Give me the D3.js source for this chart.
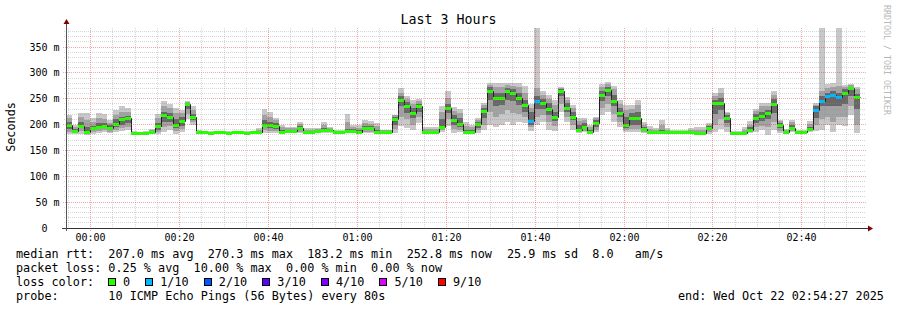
<!DOCTYPE html>
<html><head><meta charset="utf-8">
<script src="https://cdn.jsdelivr.net/npm/d3@7"></script>
<style>
body{margin:0;background:#fff}
svg{display:block}
text{font-family:"DejaVu Sans Mono",monospace;white-space:pre}
</style>
</head><body><svg id="c" width="897" height="310"></svg>
<script>
// ---------------- data ----------------
const medianRtt = [
199,188,198,186,193,196,198,194,202,210,
212,184,183,184,186,198,218,214,199,207,
240,214,186,185,184,185,185,184,185,185,
184,185,186,199,199,198,186,188,188,193,
186,186,187,190,190,186,186,188,188,186,
193,193,186,186,186,210,247,236,222,236,
186,186,186,196,233,209,202,186,186,201,
226,265,252,251,265,262,252,238,207,245,
241,231,214,265,233,215,190,196,186,204,
257,267,246,223,199,213,213,191,185,185,
185,185,185,185,185,186,183,183,194,242,
242,212,184,184,184,190,212,216,222,239,
199,186,193,185,185,191,229,245,255,258,
253,262,270,253,null];
const pingMin = [
181,181,182,180,182,183,185,183,185,187,
190,182,182,182,183,181,185,190,182,185,
210,200,184,183,183,183,183,183,183,183,
183,183,184,184,183,183,184,184,184,183,
184,184,184,184,184,184,184,184,184,184,
183,183,184,184,184,183,198,193,190,203,
184,184,184,186,198,184,185,182,184,184,
190,200,195,200,205,200,205,203,188,200,
205,190,188,225,205,190,183,185,183,185,
218,225,205,195,186,185,185,183,183,183,
183,183,183,183,183,184,180,180,182,185,
192,186,183,183,183,183,186,190,180,190,
183,184,185,183,183,186,188,190,199,186,
200,198,218,183,null];
const pingLo2 = [
186,184,187,183,185,187,189,186,190,193,
196,183,182,183,184,185,195,197,188,192,
220,205,185,184,183,184,184,183,184,184,
183,184,185,190,188,187,185,185,185,186,
185,185,185,186,186,185,185,185,185,185,
186,186,185,185,185,192,215,210,200,215,
185,185,185,190,210,192,190,184,185,189,
200,225,215,220,228,222,220,215,195,215,
218,205,198,240,215,200,185,188,184,190,
232,240,220,205,190,192,192,185,184,184,
184,184,184,184,184,185,181,181,186,200,
210,195,183,183,183,185,195,198,195,205,
188,185,188,184,184,188,200,210,215,205,
215,215,235,200,null];
const pingLo3 = [
192,186,193,185,189,191,193,190,196,200,
203,183,183,183,185,190,205,205,193,198,
230,209,185,184,184,184,184,184,184,184,
184,184,185,195,194,192,185,186,186,189,
185,185,186,188,188,185,185,186,186,185,
189,189,185,185,185,200,235,222,212,225,
185,185,185,193,222,200,196,185,185,194,
212,248,235,238,248,245,238,225,200,230,
230,218,206,255,225,208,187,192,185,196,
245,255,235,215,194,200,200,187,184,184,
184,184,184,184,184,185,182,182,190,220,
228,203,184,184,184,187,203,206,210,222,
193,185,190,184,184,189,212,235,235,235,
235,240,255,230,null];
const pingHi3 = [
205,192,205,195,198,203,203,199,210,215,
217,185,184,185,188,204,225,222,210,215,
242,220,187,186,185,186,186,185,186,186,
185,186,188,208,205,203,190,190,190,197,
188,188,189,193,192,187,187,192,192,189,
198,197,190,187,187,215,255,243,232,240,
188,188,188,210,240,218,212,190,190,205,
232,272,262,262,270,268,262,248,225,255,
250,242,225,268,242,225,200,203,190,208,
265,273,258,232,215,222,225,196,188,187,
190,187,186,186,186,188,186,186,197,248,
252,218,185,185,186,195,220,225,228,250,
203,188,200,187,187,196,235,255,262,265,
262,268,273,260,null];
const pingHi2 = [
212,196,214,208,205,212,210,204,218,225,
225,186,185,186,190,212,235,232,222,222,
243,228,188,187,186,187,187,186,187,187,
186,187,190,218,214,208,195,193,193,201,
190,190,191,199,194,188,188,205,195,193,
204,202,197,189,189,218,262,250,240,245,
192,192,192,225,252,226,222,197,195,208,
237,277,272,272,276,275,272,262,233,270,
258,250,238,270,248,232,207,208,195,212,
272,278,268,240,228,230,238,200,192,190,
200,190,188,188,188,190,190,190,200,255,
262,222,186,186,190,200,226,235,235,258,
206,190,205,188,188,201,238,265,270,272,
275,273,276,268,null];
const pingMax = [
218,199,222,222,212,222,220,208,228,235,
232,187,186,187,192,220,245,240,232,228,
245,235,189,187,187,187,188,187,188,187,
187,188,193,230,224,212,199,196,196,205,
193,193,193,205,196,190,190,221,199,199,
209,207,203,190,190,219,270,256,248,250,
196,196,196,236,264,234,231,205,199,212,
241,281,280,280,280,280,280,274,240,395,
264,257,247,272,254,238,212,212,199,215,
278,283,274,248,238,238,247,205,197,193,
209,193,190,190,190,193,196,196,203,261,
270,225,187,187,196,206,231,242,241,265,
209,192,209,189,189,206,241,395,278,280,
395,276,278,272,null];
// loss index per point: 0 = no loss, 1 = 1/10
const lossIdx = [
0,0,0,0,0,0,0,0,0,0, 0,0,0,0,0,0,0,0,0,0,
0,0,0,0,0,0,0,0,0,0, 0,0,0,0,0,0,0,0,0,0,
0,0,0,0,0,0,0,0,0,0, 0,0,0,0,0,0,0,0,0,0,
0,0,0,0,0,0,0,0,0,0, 0,0,0,0,0,0,0,0,1,1,
0,0,0,0,0,0,0,0,0,0, 0,0,0,0,0,0,0,0,0,0,
0,0,0,0,0,0,0,0,0,0, 0,0,0,0,0,0,0,0,0,0,
0,0,0,0,0,0,1,1,1,1, 1,0,0,0,0];

const lossLabels = ["0","1/10","2/10","3/10","4/10","5/10","9/10"];
const lossColors = ["#26ff00","#00b8ff","#0059ff","#5e00ff","#7e00ff","#dd00ff","#ff0000"];

const yTickValues = [0,50,100,150,200,250,300,350];
const yTickLabels = ["0","50 m","100 m","150 m","200 m","250 m","300 m","350 m"];
const xTickLabels = ["00:00","00:20","00:40","01:00","01:20","01:40","02:00","02:20","02:40"];

const rttStats = ["207.0 ms avg","270.3 ms max","183.2 ms min","252.8 ms now"];
const rttExtra = ["25.9 ms sd","8.0   am/s"];
const lossStats = ["0.25 % avg","10.00 % max","0.00 % min","0.00 % now"];
const probeText = "10 ICMP Echo Pings (56 Bytes) every 80s";
const endText = "end: Wed Oct 22 02:54:27 2025";
const titleText = "Last 3 Hours";
const yTitle = "Seconds";
const sideText = "RRDTOOL / TOBI OETIKER";
const stepSec = 80;

// ---------------- layout ----------------
const svg = d3.select("#c");
const L = 66, R = 866, T = 28, B = 228;
const endT = new Date(Date.UTC(2025,9,22,2,54,27));
const startT = new Date(endT.getTime() - 3*3600*1000);
const x = d3.scaleUtc().domain([startT,endT]).range([L,R]);
const y = d3.scaleLinear().domain([0,386.8]).range([B,T]);
const tAt = i => new Date(startT.getTime() + i*stepSec*1000);
const CW = 7.09; // legend char width

svg.append("rect").attr("width",897).attr("height",310).attr("fill","#fff");

svg.append("defs").append("clipPath").attr("id","pc")
  .append("rect").attr("x",L).attr("y",T).attr("width",R-L).attr("height",B-T);

const g = svg.append("g").attr("clip-path","url(#pc)");
const pts = medianRtt.map((m,i)=>({i,m})).filter(d=>d.m!==null);

// smoke bands
const bands = [[pingMin,pingMax,"#c8c8c8"],[pingLo2,pingHi2,"#a2a2a2"],[pingLo3,pingHi3,"#686868"]];
bands.forEach(([lo,hi,col])=>{
  g.append("g").attr("shape-rendering","crispEdges").selectAll("rect").data(pts).join("rect")
    .attr("x",d=>Math.round(x(tAt(d.i))))
    .attr("width",d=>Math.round(x(tAt(d.i+1)))-Math.round(x(tAt(d.i))))
    .attr("y",d=>Math.round(y(hi[d.i])))
    .attr("height",d=>Math.max(1,Math.round(y(lo[d.i]))-Math.round(y(hi[d.i]))))
    .attr("fill",col);
});

// median step line
const linePts = pts.map(d=>({t:tAt(d.i),v:d.m}));
linePts.push({t:tAt(pts[pts.length-1].i+1),v:pts[pts.length-1].m});
g.append("path").datum(linePts)
  .attr("d",d3.line().x(d=>Math.round(x(d.t))+0.5).y(d=>Math.round(y(d.v))+0.5).curve(d3.curveStepAfter))
  .attr("fill","none").attr("stroke","#202020").attr("stroke-width",1);

// loss-coloured median bars
g.append("g").attr("shape-rendering","crispEdges").selectAll("rect").data(pts).join("rect")
  .attr("x",d=>Math.round(x(tAt(d.i))))
  .attr("width",d=>Math.round(x(tAt(d.i+1)))-Math.round(x(tAt(d.i))))
  .attr("y",d=>Math.round(y(d.m))-1)
  .attr("height",3)
  .attr("fill",d=>lossColors[lossIdx[d.i]]);

// grid (drawn over the data, semi-transparent, dotted)
const grid = svg.append("g").attr("shape-rendering","crispEdges");
const minorCol = "rgba(140,140,140,0.35)", majorCol = "rgba(222,48,48,0.42)";
d3.range(10,387,10).filter(v=>v%50!==0).forEach(v=>{
  const yy = Math.floor(y(v))+0.5;
  grid.append("line").attr("x1",L-2).attr("x2",R).attr("y1",yy).attr("y2",yy)
    .attr("stroke",minorCol).attr("stroke-dasharray","1,1");
});
yTickValues.filter(v=>v>0).forEach(v=>{
  const yy = Math.floor(y(v))+0.5;
  grid.append("line").attr("x1",L-3).attr("x2",R).attr("y1",yy).attr("y2",yy)
    .attr("stroke",majorCol).attr("stroke-dasharray","1,1");
});
const minorTimes = d3.utcMinute.every(5).range(startT,endT);
minorTimes.forEach(t=>{
  const major = t.getUTCMinutes()%20===0;
  const xx = Math.floor(x(t))+0.5;
  grid.append("line").attr("x1",xx).attr("x2",xx).attr("y1",T).attr("y2",B+ (major?4:2))
    .attr("stroke",major?majorCol:minorCol).attr("stroke-dasharray","1,1");
});

// axes
const ax = svg.append("g").attr("shape-rendering","crispEdges");
ax.append("line").attr("x1",L-4).attr("x2",R+3).attr("y1",B+0.5).attr("y2",B+0.5).attr("stroke","#333");
ax.append("line").attr("x1",L+0.5).attr("x2",L+0.5).attr("y1",B+3).attr("y2",T-5).attr("stroke","#555");
svg.append("path").attr("d",`M${R+2},${B-2.5}L${R+7},${B+0.5}L${R+2},${B+3.5}Z`).attr("fill","#7f0000");
svg.append("path").attr("d",`M${L-2.5},${T-4}L${L+0.5},${T-9}L${L+3.5},${T-4}Z`).attr("fill","#7f0000");

// y tick labels
yTickValues.forEach((v,k)=>{
  const lab = yTickLabels[k];
  const endX = 59.5 - (lab.indexOf(" ")<0 ? 2*6.02 : 0);
  svg.append("text").attr("x",endX).attr("y",Math.floor(y(v))+4)
    .attr("text-anchor","end").attr("font-size","10px").attr("fill","#000").text(lab);
});
// x tick labels
xTickLabels.forEach(lab=>{
  const [hh,mm] = lab.split(":").map(Number);
  const t = new Date(Date.UTC(2025,9,22,hh,mm,0));
  svg.append("text").attr("x",Math.floor(x(t))+0.5).attr("y",241)
    .attr("text-anchor","middle").attr("font-size","10px").attr("fill","#000").text(lab);
});

// title & axis title
svg.append("text").attr("x",448.5).attr("y",24).attr("text-anchor","middle")
  .attr("font-size","13.3px").attr("fill","#000").text(titleText);
svg.append("text").attr("transform","translate(15,127) rotate(-90)").attr("text-anchor","middle")
  .attr("font-size","11.8px").attr("fill","#000").text(yTitle);
svg.append("text").attr("transform","translate(884,5) rotate(90)").attr("text-anchor","start")
  .attr("font-size","8.3px").attr("fill","#b8b8b8").text(sideText);

// legend
const fs = "11.8px";
const leg = (tx,xx,yy)=>svg.append("text").attr("x",xx).attr("y",yy).attr("font-size",fs).attr("fill","#000").text(tx);
leg("median rtt:  " + rttStats.join("  "),16,258);
leg(rttExtra.join("  "),507,258);
leg("packet loss: " + lossStats.join("  "),16,272);
leg("loss color:",16,286);
let cur = 108;
lossLabels.forEach((lab,k)=>{
  svg.append("rect").attr("x",cur+0.5).attr("y",278.5).attr("width",7).attr("height",7)
    .attr("fill",lossColors[k]).attr("stroke","#000").attr("stroke-width",1).attr("shape-rendering","crispEdges");
  leg(lab,cur+15,286);
  cur = cur + 15 + (lab.length+2)*CW + 1;
});
leg("probe:       " + probeText,16,300);
leg(endText,678,300);
</script>
</body></html>
